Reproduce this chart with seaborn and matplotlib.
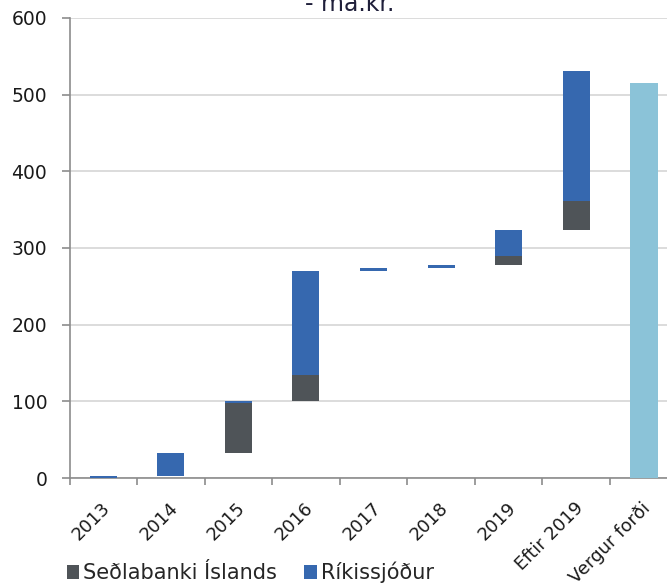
import numpy as np
import pandas as pd
import matplotlib
matplotlib.use("Agg")
import matplotlib.pyplot as plt
import seaborn as sns
from matplotlib.patches import Patch
from matplotlib.transforms import ScaledTranslation

# Categories along the x axis
categories = ["2013", "2014", "2015", "2016", "2017", "2018", "2019",
              "Eftir 2019", "Vergur forði"]

# Waterfall steps (ma.kr.) per category, in stacking order within a year
step_labels = ["2013", "2014", "2015", "2015", "2016", "2016", "2017",
               "2018", "2019", "2019", "Eftir 2019", "Eftir 2019"]
step_series = ["Ríkissjóður", "Ríkissjóður", "Seðlabanki Íslands", "Ríkissjóður",
               "Seðlabanki Íslands", "Ríkissjóður", "Ríkissjóður", "Ríkissjóður",
               "Seðlabanki Íslands", "Ríkissjóður", "Seðlabanki Íslands", "Ríkissjóður"]
step_values = [3, 30, 65, 3, 33, 136, 4, 4, 12, 34, 37, 170]

# Gross reserves
total_label = "Vergur forði"
total_value = 515

y_ticks = [0, 100, 200, 300, 400, 500, 600]

colors = {"Seðlabanki Íslands": "#4F5458", "Ríkissjóður": "#3668AF"}
total_color = "#8BC3D8"

steps = pd.DataFrame({"flokkur": step_labels, "rod": step_series, "gildi": step_values})
steps["botn"] = steps["gildi"].cumsum() - steps["gildi"]

sns.set_style("white")
plt.rcParams["font.family"] = ["DejaVu Sans"]

fig = plt.figure(figsize=(6.67, 5.85), dpi=100)
ax = fig.add_axes([69.5 / 667, 1 - 478 / 585, 608 / 667, 460 / 585])

for rod, grp in steps.groupby("rod", sort=False):
    sns.barplot(data=grp, x="flokkur", y="gildi", order=categories,
                bottom=grp["botn"].to_numpy(), color=colors[rod], width=0.4,
                saturation=1, edgecolor="none", linewidth=0, ax=ax, zorder=3)

sns.barplot(x=[total_label], y=[total_value], order=categories, color=total_color,
            width=0.42, saturation=1, edgecolor="none", linewidth=0, ax=ax, zorder=3)

ax.set_ylim(0, 600)
ax.set_xlim(-0.5, len(categories) - 0.5)
ax.set_yticks(y_ticks)
ax.yaxis.grid(True, color="#D9D9D9", linewidth=1.3, zorder=0)
ax.set_axisbelow(True)
ax.set_xlabel("")
ax.set_ylabel("")

for side in ["top", "right"]:
    ax.spines[side].set_visible(False)
for side in ["left", "bottom"]:
    ax.spines[side].set_color("#8C8C8C")
    ax.spines[side].set_linewidth(1.2)

ax.tick_params(axis="y", which="major", left=True, length=6, width=1.2,
               color="#8C8C8C", labelsize=13.5, labelcolor="#1A1A1A", pad=10)
ax.set_xticks(np.arange(len(categories)))
ax.set_xticks(np.arange(len(categories) + 1) - 0.5, minor=True)
ax.tick_params(axis="x", which="major", length=0, labelsize=13, labelcolor="#1A1A1A")
ax.tick_params(axis="x", which="minor", bottom=True, length=5, width=1.2, color="#8C8C8C")
ax.set_xticklabels(categories, rotation=45, ha="right", va="top", rotation_mode="anchor")
offset = ScaledTranslation(-2 / 100, -16 / 100, fig.dpi_scale_trans)
for lbl in ax.get_xticklabels():
    lbl.set_transform(lbl.get_transform() + offset)

handles = [Patch(facecolor=colors["Seðlabanki Íslands"], edgecolor="none"),
           Patch(facecolor=colors["Ríkissjóður"], edgecolor="none")]
fig.legend(handles, ["Seðlabanki Íslands", "Ríkissjóður"], loc="lower left",
           bbox_to_anchor=(48 / 667, -17 / 585), ncol=2, frameon=False, fontsize=15,
           handlelength=0.6, handleheight=0.7, handletextpad=0.2, columnspacing=1.3)

fig.text(350 / 667, 1 - 11 / 585, "- ma.kr.", ha="center", va="baseline",
         fontsize=17, color="#1F1F3A")

fig.savefig("out.png", dpi=100)
